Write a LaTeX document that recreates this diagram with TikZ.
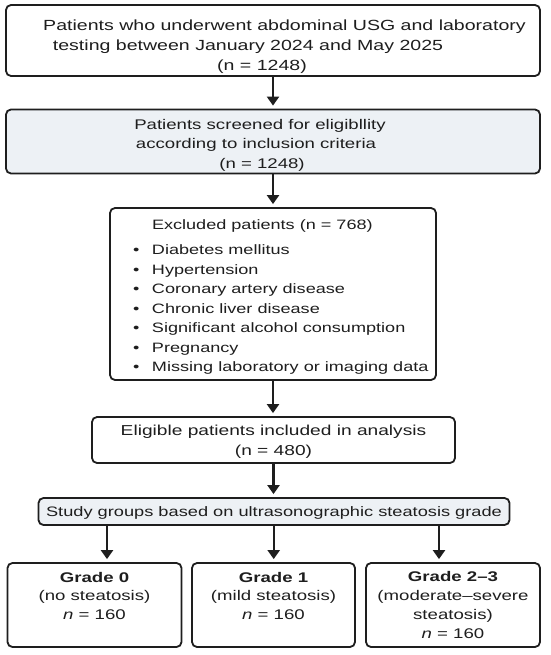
\documentclass[tikz,border=0pt]{standalone}
\usepackage{fontspec}
\setmainfont{Liberation Sans}[FakeStretch=1.33]
\usetikzlibrary{arrows.meta}
\definecolor{ink}{HTML}{1E1E1E}
\definecolor{pale}{HTML}{EDF1F5}
\newcommand\shl[2]{\makebox[0pt]{\hspace*{#1}#2\hspace*{-#1}}}
\newcommand\lline[1]{\makebox[0pt][l]{\hspace*{-140pt}#1}}
\newcommand\bitem[1]{\lline{\makebox[19pt][l]{•}#1}}
\newcommand\tall[1]{\rule{0pt}{#1}}
\begin{document}
\begin{tikzpicture}[x=1pt,y=-1pt]
\tikzset{
  box/.style={draw=ink, line width=1.8pt, rounded corners=5pt, fill=white,
    inner sep=0pt, text=ink, align=center, font=\fontsize{14}{19.5}\selectfont},
  shaded/.style={box, fill=pale},
  grade/.style={box, font=\fontsize{14}{18.7}\selectfont, minimum height=84pt},
  arr/.style={draw=ink, line width=2.2pt, -{Triangle[width=12pt,length=9pt]}, shorten >=3pt},
}
\fill[white] (0,0) rectangle (550,655);
\useasboundingbox (0,0) rectangle (550,655);

\node[box, minimum width=534pt, minimum height=71pt, font=\fontsize{14.7}{20}\selectfont] (b1) at (273,40.5)
  {\tall{24pt}\shl{11.5pt}{Patients who underwent abdominal USG and laboratory}\\
   \shl{-25pt}{testing between January 2024 and May 2025}\\
   \shl{-11pt}{(n = 1248)}};

\node[shaded, minimum width=534pt, minimum height=64pt] (b2) at (273,141.5)
  {\tall{17pt}\shl{-13pt}{Patients screened for eligibllity}\\
   \shl{-17pt}{according to inclusion criteria}\\
   \shl{-11pt}{(n = 1248)}};

\node[box, minimum width=326pt, minimum height=172pt, font=\fontsize{13.6}{19.5}\selectfont] (b3) at (273,294)
  {\tall{16pt}\lline{\hspace*{19pt}Excluded patients (n = 768)}\\[5.5pt]
   \bitem{Diabetes mellitus}\\
   \bitem{Hypertension}\\
   \bitem{Coronary artery disease}\\
   \bitem{Chronic liver disease}\\
   \bitem{Significant alcohol consumption}\\
   \bitem{Pregnancy}\\
   \bitem{Missing laboratory or imaging data}};

\node[box, minimum width=363pt, minimum height=46pt, font=\fontsize{14.4}{20}\selectfont] (b4) at (273.5,440)
  {\tall{13.5pt}Eligible patients included in analysis\\(n = 480)};

\node[shaded, minimum width=471pt, minimum height=27pt, font=\fontsize{13.7}{19.5}\selectfont] (b5) at (274,511.5)
  {\tall{13pt}Study groups based on ultrasonographic steatosis grade};

\node[grade, minimum width=174pt] (ga) at (94.5,605)
  {\textbf{Grade 0}\\(no steatosis)\\\textit{n} = 160\\\mbox{}};
\node[grade, minimum width=163pt] (gb) at (273.5,605)
  {\textbf{Grade 1}\\(mild steatosis)\\\textit{n} = 160\\\mbox{}};
\node[grade, minimum width=174pt] (gc) at (453,605)
  {\textbf{Grade 2–3}\\(moderate–severe\\steatosis)\\\textit{n} = 160};

\draw[arr] (b1.south) -- (b2.north);
\draw[arr] (b2.south) -- (b3.north);
\draw[arr] (b3.south) -- (b3.south |- b4.north);
\draw[arr] (b4.south) -- (b4.south |- b5.north);
\coordinate (s1) at ([xshift=-167pt]b5.south);
\coordinate (s2) at ([xshift=-0.3pt]b5.south);
\coordinate (s3) at ([xshift=165pt]b5.south);
\draw[arr] (s1) -- (s1 |- ga.north);
\draw[arr] (s2) -- (s2 |- gb.north);
\draw[arr] (s3) -- (s3 |- gc.north);
\end{tikzpicture}
\end{document}
